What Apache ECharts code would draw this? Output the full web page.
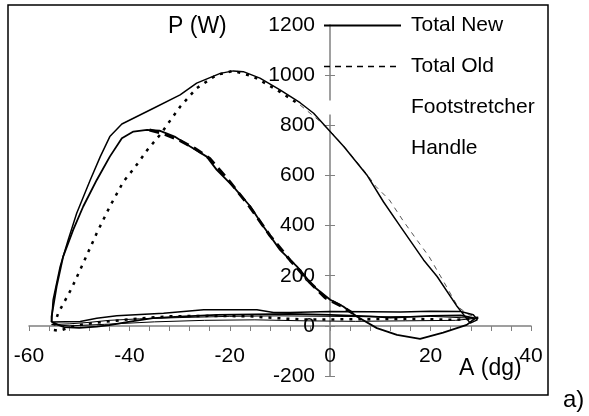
<!DOCTYPE html>
<html>
<head>
<meta charset="utf-8">
<script src="https://cdn.jsdelivr.net/npm/echarts@6/dist/echarts.min.js"></script>
<style>
  html, body { margin: 0; padding: 0; background: #fff; }
  #chart { width: 589px; height: 416px; }
</style>
</head>
<body>
<div id="chart"></div>
<script>
// angle A (dg) vs power P (W)
var xTicks = [-60, -40, -20, 0, 20, 40];
var yTicks = [-200, 0, 200, 400, 600, 800, 1000, 1200];

var totalNew = [
    [-55.5, 15], [-55.2, 104], [-53.8, 236], [-52.2, 343], [-50.5, 449], [-47.8, 582],
    [-45.8, 675], [-43.9, 755], [-41.5, 805], [-38, 840], [-35.2, 868], [-29.9, 921],
    [-26.6, 968], [-21.9, 1007], [-19.3, 1017], [-17.3, 1014], [-14, 988], [-10, 941],
    [-6, 890], [-3.3, 848], [0.3, 768], [2.7, 715], [7.3, 602], [10.6, 495], [14, 396],
    [18.6, 263], [21.3, 197], [25.3, 77], [27.9, 11], [29.3, 24],
    [28.5, 44], [26, 57], [20, 58], [14, 55], [8, 56], [0, 57], [-8, 53], [-11.3, 53],
    [-14.6, 64], [-25.2, 64], [-33.2, 50], [-42.5, 40], [-46.5, 30], [-49.8, 17], [-55.5, 15]
];

var totalOldDrive = [
    [29.5, 32], [25, 24], [18, 27], [10, 27], [2, 26], [-5, 25], [-10, 30], [-16, 38],
    [-24, 40], [-32, 38], [-38, 30], [-43, 20], [-47, 12], [-51, 0], [-54, -20], [-55.3, -16],
    [-54.2, 50], [-51.5, 150], [-49.2, 250], [-46.5, 370], [-43.9, 476], [-41.2, 575],
    [-39.2, 625], [-37.9, 660], [-36.5, 700], [-33.9, 762], [-29.9, 874], [-26.6, 948],
    [-22.6, 1001], [-19.3, 1017], [-15.3, 994], [-10.6, 941], [-6, 881]
];

var totalOldEnd = [
    [-6, 881], [-2, 815], [0.3, 770], [3, 710], [7.3, 605], [9.1, 556], [11.8, 502],
    [14.5, 420], [17, 350], [19.7, 276], [22.5, 180], [25.4, 77], [27.5, 45], [29.5, 32]
];

var footNew = [
    [-55.5, 15], [-55.5, 37], [-54.5, 157], [-53.2, 276], [-51.2, 383], [-49.2, 476],
    [-46.5, 582], [-43.9, 675], [-41.5, 748], [-39.2, 775], [-36.5, 782], [-34, 779],
    [-31, 755], [-27.9, 715], [-24.6, 675], [-22.6, 622], [-19.3, 555], [-15.9, 476],
    [-13.3, 396], [-10, 303], [-6.6, 236], [-3.3, 157], [0, 104], [2.6, 77], [5.3, 37],
    [9.3, -9], [13.3, -36], [17.9, -52], [22.5, -27], [27.2, 4], [28.9, 30],
    [26, 42], [20, 40], [16, 36], [12, 33], [8, 38], [0, 44], [-8, 48], [-15, 46],
    [-22.6, 44], [-30, 37], [-35.3, 31], [-39.9, 17], [-44, 3], [-46.5, -3], [-50, -8],
    [-53, -5], [-55.5, 15]
];

var footOld = [
    [-36, 781], [-33.5, 768], [-30, 740], [-27, 708], [-24, 668], [-20, 575],
    [-16, 474], [-12, 360], [-8, 262], [-4, 172], [-1, 112], [2.5, 76], [4.5, 50]
];

var handle = [
    [-55.5, 5], [-52, 8], [-48, 14], [-44, 22], [-38, 28], [-30, 33], [-20, 38],
    [-10, 40], [0, 38], [10, 36], [20, 38], [29, 30],
    [25, 22], [15, 20], [5, 18], [-5, 20], [-15, 24], [-25, 22], [-35, 16],
    [-45, 6], [-52, 0], [-55.5, 5]
];

var chart = echarts.init(document.getElementById('chart'));
var font = 'Liberation Sans, Arial, sans-serif';
var noDot = { opacity: 0 };
var axisGray = '#808080';

// axes cross at (0,0): grid is 502 x 351, so x=0 sits 301px right of the left edge
// and y=0 sits 50px above the bottom edge
var yCross = -301;
var xCross = -50;

var option = {
    animation: false,
    backgroundColor: '#fff',
    color: ['#000'],
    textStyle: { fontFamily: font },
    grid: { left: 29, right: 58, top: 25, bottom: 40, containLabel: false, outerBoundsMode: 'none' },
    legend: {
        orient: 'vertical',
        left: 318,
        top: 10,
        itemWidth: 77,
        itemHeight: 14,
        itemGap: 20,
        textStyle: { fontSize: 21, lineHeight: 20, color: '#000', padding: [0, 0, 0, 5] },
        data: [
            { name: 'Total New', itemStyle: noDot },
            { name: 'Total Old', itemStyle: noDot, lineStyle: { type: [6, 5], width: 1.5, color: '#000' } },
            { name: 'Footstretcher', icon: 'rect', itemStyle: { color: '#fff' } },
            { name: 'Handle', icon: 'none' }
        ]
    },
    xAxis: {
        type: 'value',
        min: -60,
        max: 40,
        interval: 20,
        offset: xCross,
        axisLine: { onZero: false, lineStyle: { color: axisGray, width: 1.5 } },
        axisTick: { show: true, length: 5, lineStyle: { color: axisGray } },
        minorTick: { show: true, splitNumber: 5, length: 5, lineStyle: { color: axisGray } },
        splitLine: { show: false },
        axisLabel: {
            margin: 20, fontSize: 21, color: '#000',
            formatter: function (v) { return xTicks.indexOf(v) > -1 ? String(v) : ''; }
        }
    },
    yAxis: [{
        type: 'value',
        position: 'left',
        min: -200,
        max: 1200,
        interval: 200,
        offset: yCross,
        axisLine: { onZero: false, lineStyle: { color: axisGray, width: 1.5 } },
        axisTick: { show: true, length: 5, lineStyle: { color: axisGray } },
        splitLine: { show: false },
        axisLabel: {
            margin: 15, fontSize: 21, color: '#000',
            formatter: function (v) { return yTicks.indexOf(v) > -1 ? String(v) : ''; }
        }
    }, {
        // same scale again, only for the inner half of the crossing ticks
        type: 'value',
        position: 'left',
        min: -200,
        max: 1200,
        interval: 200,
        offset: yCross,
        axisLine: { show: false, onZero: false },
        axisTick: { show: true, inside: true, length: 5, lineStyle: { color: axisGray } },
        splitLine: { show: false },
        axisLabel: { show: false }
    }],
    series: [
        {
            name: 'Total New', type: 'line', symbol: 'none', data: totalNew,
            lineStyle: { color: '#000', width: 1.5 }, z: 5
        },
        {
            name: 'Total Old', type: 'line', symbol: 'none', data: totalOldDrive,
            lineStyle: { color: '#000', width: 2.5, type: [3, 6] }, z: 4
        },
        {
            name: 'Total Old', type: 'line', symbol: 'none', data: totalOldEnd,
            lineStyle: { color: '#555', width: 1, type: [5, 5] }, z: 3
        },
        {
            name: 'Footstretcher', type: 'line', symbol: 'none', data: footNew,
            lineStyle: { color: '#000', width: 1.8 }, z: 5
        },
        {
            name: 'Footstretcher', type: 'line', symbol: 'none', data: footOld,
            lineStyle: { color: '#000', width: 3, type: [10, 6] }, z: 4
        },
        {
            name: 'Handle', type: 'line', symbol: 'none', data: handle,
            lineStyle: { color: '#000', width: 1 }, z: 3
        }
    ],
    graphic: [
        {
            type: 'rect', z: -1, silent: true,
            shape: { x: 8, y: 5, width: 540, height: 390 },
            style: { fill: 'none', stroke: '#000', lineWidth: 1.5 }
        },
        {
            type: 'text', left: 168, top: 15,
            style: { text: 'P (W)', font: '23px ' + font, fill: '#000' }
        },
        {
            type: 'text', left: 459, top: 357,
            style: { text: 'A (dg)', font: '23px ' + font, fill: '#000' }
        },
        {
            type: 'text', left: 563, top: 388,
            style: { text: 'a)', font: '24px ' + font, fill: '#000' }
        }
    ]
};

chart.setOption(option);
</script>
</body>
</html>
